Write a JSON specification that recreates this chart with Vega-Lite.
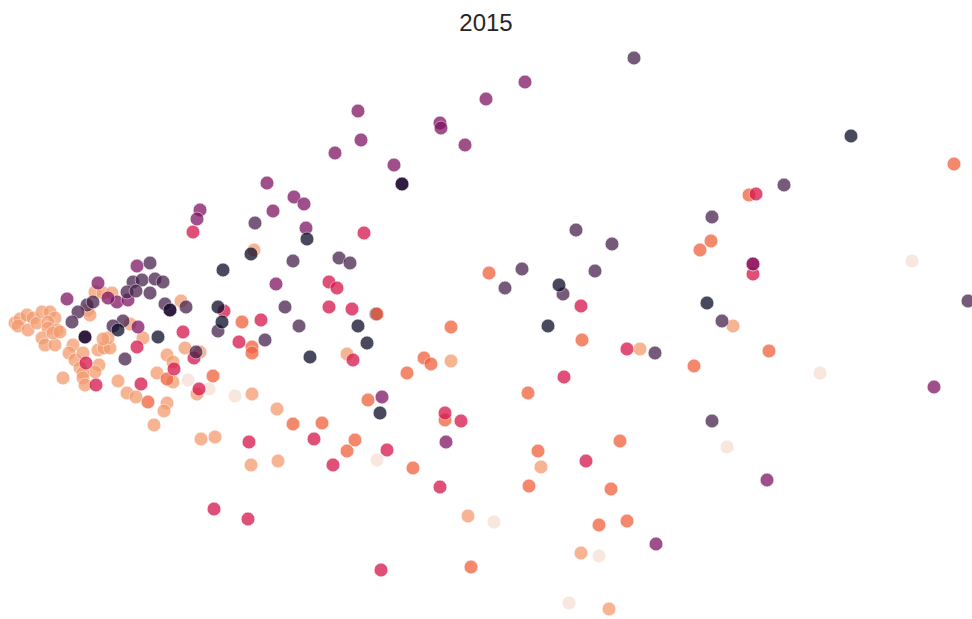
{
  "$schema": "https://vega.github.io/schema/vega-lite/v6.json",
  "width": 972,
  "height": 619,
  "autosize": "none",
  "padding": 0,
  "title": {"text": "2015", "anchor": "middle", "fontSize": 24, "font": "Liberation Sans", "fontWeight": "normal", "color": "#262626", "offset": -30, "dy": 25, "baseline": "alphabetic"},
  "config": {"view": {"stroke": null}},
  "data": {"values": [
    {"x":15,"y":323,"g":"K"},{"x":20,"y":319,"g":"K"},{"x":27,"y":315,"g":"K"},{"x":33,"y":318,"g":"K"},{"x":18,"y":326,"g":"K"},{"x":28,"y":330,"g":"K"},{"x":37,"y":323,"g":"K"},{"x":42,"y":312,"g":"K"},{"x":50,"y":312,"g":"K"},{"x":55,"y":318,"g":"K"},{"x":48,"y":322,"g":"K"},{"x":48,"y":328,"g":"K"},{"x":57,"y":330,"g":"K"},{"x":42,"y":338,"g":"K"},{"x":45,"y":345,"g":"K"},{"x":55,"y":345,"g":"K"},{"x":53,"y":333,"g":"K"},{"x":60,"y":332,"g":"K"},{"x":73,"y":345,"g":"K"},{"x":69,"y":353,"g":"K"},{"x":75,"y":360,"g":"K"},{"x":83,"y":353,"g":"K"},{"x":80,"y":368,"g":"K"},{"x":98,"y":350,"g":"K"},{"x":104,"y":348,"g":"K"},{"x":110,"y":348,"g":"K"},{"x":108,"y":338,"g":"K"},{"x":99,"y":365,"g":"K"},{"x":95,"y":372,"g":"K"},{"x":83,"y":373,"g":"K"},{"x":83,"y":378,"g":"K"},{"x":85,"y":385,"g":"K"},{"x":63,"y":378,"g":"K"},{"x":88,"y":310,"g":"K"},{"x":90,"y":315,"g":"K"},{"x":95,"y":292,"g":"K"},{"x":103,"y":293,"g":"K"},{"x":112,"y":293,"g":"K"},{"x":130,"y":324,"g":"K"},{"x":143,"y":338,"g":"K"},{"x":103,"y":339,"g":"K"},{"x":181,"y":301,"g":"K"},{"x":185,"y":348,"g":"K"},{"x":200,"y":352,"g":"K"},{"x":167,"y":355,"g":"K"},{"x":173,"y":362,"g":"K"},{"x":157,"y":373,"g":"K"},{"x":173,"y":382,"g":"K"},{"x":118,"y":381,"g":"K"},{"x":127,"y":393,"g":"K"},{"x":136,"y":397,"g":"K"},{"x":167,"y":403,"g":"K"},{"x":164,"y":411,"g":"K"},{"x":154,"y":425,"g":"K"},{"x":197,"y":394,"g":"K"},{"x":201,"y":439,"g":"K"},{"x":215,"y":437,"g":"K"},{"x":252,"y":394,"g":"K"},{"x":277,"y":409,"g":"K"},{"x":251,"y":465,"g":"K"},{"x":278,"y":461,"g":"K"},{"x":347,"y":354,"g":"K"},{"x":451,"y":361,"g":"K"},{"x":254,"y":250,"g":"K"},{"x":640,"y":349,"g":"K"},{"x":733,"y":326,"g":"K"},{"x":541,"y":467,"g":"K"},{"x":468,"y":516,"g":"K"},{"x":581,"y":553,"g":"K"},{"x":609,"y":609,"g":"K"},
    {"x":912,"y":261,"g":"W"},{"x":820,"y":373,"g":"W"},{"x":727,"y":447,"g":"W"},{"x":599,"y":556,"g":"W"},{"x":569,"y":603,"g":"W"},{"x":494,"y":522,"g":"W"},{"x":377,"y":460,"g":"W"},{"x":235,"y":396,"g":"W"},{"x":209,"y":389,"g":"W"},{"x":188,"y":380,"g":"W"},
    {"x":954,"y":164,"g":"O"},{"x":749,"y":195,"g":"O"},{"x":700,"y":250,"g":"O"},{"x":711,"y":241,"g":"O"},{"x":489,"y":273,"g":"O"},{"x":242,"y":322,"g":"O"},{"x":252,"y":347,"g":"O"},{"x":252,"y":353,"g":"O"},{"x":451,"y":327,"g":"O"},{"x":424,"y":358,"g":"O"},{"x":431,"y":364,"g":"O"},{"x":407,"y":373,"g":"O"},{"x":368,"y":400,"g":"O"},{"x":445,"y":420,"g":"O"},{"x":355,"y":440,"g":"O"},{"x":347,"y":451,"g":"O"},{"x":322,"y":423,"g":"O"},{"x":293,"y":424,"g":"O"},{"x":413,"y":468,"g":"O"},{"x":213,"y":376,"g":"O"},{"x":167,"y":379,"g":"O"},{"x":148,"y":402,"g":"O"},{"x":582,"y":340,"g":"O"},{"x":528,"y":393,"g":"O"},{"x":694,"y":366,"g":"O"},{"x":769,"y":351,"g":"O"},{"x":620,"y":441,"g":"O"},{"x":538,"y":451,"g":"O"},{"x":611,"y":489,"g":"O"},{"x":529,"y":486,"g":"O"},{"x":627,"y":521,"g":"O"},{"x":599,"y":525,"g":"O"},{"x":471,"y":567,"g":"O"},
    {"x":193,"y":232,"g":"C"},{"x":364,"y":233,"g":"C"},{"x":329,"y":282,"g":"C"},{"x":337,"y":288,"g":"C"},{"x":329,"y":307,"g":"C"},{"x":352,"y":309,"g":"C"},{"x":224,"y":311,"g":"C"},{"x":261,"y":320,"g":"C"},{"x":239,"y":342,"g":"C"},{"x":353,"y":360,"g":"C"},{"x":183,"y":332,"g":"C"},{"x":137,"y":347,"g":"C"},{"x":86,"y":363,"g":"C"},{"x":96,"y":385,"g":"C"},{"x":141,"y":384,"g":"C"},{"x":174,"y":369,"g":"C"},{"x":194,"y":358,"g":"C"},{"x":199,"y":389,"g":"C"},{"x":249,"y":442,"g":"C"},{"x":333,"y":465,"g":"C"},{"x":314,"y":439,"g":"C"},{"x":387,"y":450,"g":"C"},{"x":445,"y":413,"g":"C"},{"x":461,"y":421,"g":"C"},{"x":440,"y":487,"g":"C"},{"x":381,"y":570,"g":"C"},{"x":214,"y":509,"g":"C"},{"x":248,"y":519,"g":"C"},{"x":581,"y":306,"g":"C"},{"x":564,"y":377,"g":"C"},{"x":627,"y":349,"g":"C"},{"x":586,"y":461,"g":"C"},{"x":756,"y":194,"g":"C"},{"x":753,"y":274,"g":"C"},{"x":753,"y":264,"g":"C"},
    {"x":525,"y":82,"g":"M"},{"x":486,"y":99,"g":"M"},{"x":358,"y":111,"g":"M"},{"x":440,"y":123,"g":"M"},{"x":441,"y":128,"g":"M"},{"x":361,"y":140,"g":"M"},{"x":465,"y":145,"g":"M"},{"x":335,"y":153,"g":"M"},{"x":394,"y":165,"g":"M"},{"x":402,"y":184,"g":"M"},{"x":267,"y":183,"g":"M"},{"x":294,"y":197,"g":"M"},{"x":304,"y":204,"g":"M"},{"x":200,"y":210,"g":"M"},{"x":197,"y":219,"g":"M"},{"x":273,"y":211,"g":"M"},{"x":306,"y":228,"g":"M"},{"x":276,"y":284,"g":"M"},{"x":382,"y":397,"g":"M"},{"x":446,"y":442,"g":"M"},{"x":934,"y":387,"g":"M"},{"x":767,"y":480,"g":"M"},{"x":656,"y":544,"g":"M"},{"x":753,"y":264,"g":"M"},{"x":137,"y":266,"g":"M"},{"x":98,"y":283,"g":"M"},{"x":117,"y":302,"g":"M"},{"x":128,"y":300,"g":"M"},{"x":108,"y":298,"g":"M"},{"x":67,"y":299,"g":"M"},{"x":138,"y":327,"g":"M"},{"x":170,"y":310,"g":"M"},{"x":85,"y":337,"g":"M"},
    {"x":634,"y":58,"g":"P"},{"x":784,"y":185,"g":"P"},{"x":255,"y":223,"g":"P"},{"x":293,"y":261,"g":"P"},{"x":339,"y":258,"g":"P"},{"x":350,"y":263,"g":"P"},{"x":285,"y":307,"g":"P"},{"x":376,"y":314,"g":"P"},{"x":218,"y":331,"g":"P"},{"x":299,"y":326,"g":"P"},{"x":265,"y":340,"g":"P"},{"x":522,"y":269,"g":"P"},{"x":505,"y":288,"g":"P"},{"x":563,"y":294,"g":"P"},{"x":576,"y":230,"g":"P"},{"x":612,"y":244,"g":"P"},{"x":595,"y":271,"g":"P"},{"x":655,"y":353,"g":"P"},{"x":712,"y":217,"g":"P"},{"x":722,"y":321,"g":"P"},{"x":968,"y":301,"g":"P"},{"x":712,"y":421,"g":"P"},{"x":150,"y":263,"g":"P"},{"x":133,"y":282,"g":"P"},{"x":142,"y":280,"g":"P"},{"x":155,"y":279,"g":"P"},{"x":163,"y":282,"g":"P"},{"x":127,"y":292,"g":"P"},{"x":136,"y":291,"g":"P"},{"x":150,"y":293,"g":"P"},{"x":87,"y":305,"g":"P"},{"x":93,"y":302,"g":"P"},{"x":78,"y":312,"g":"P"},{"x":72,"y":322,"g":"P"},{"x":165,"y":304,"g":"P"},{"x":186,"y":307,"g":"P"},{"x":123,"y":321,"g":"P"},{"x":125,"y":359,"g":"P"},{"x":196,"y":352,"g":"P"},{"x":113,"y":326,"g":"P"},
    {"x":377,"y":314,"g":"O"},
    {"x":851,"y":136,"g":"D"},{"x":307,"y":239,"g":"D"},{"x":251,"y":254,"g":"D"},{"x":223,"y":270,"g":"D"},{"x":218,"y":307,"g":"D"},{"x":222,"y":322,"g":"D"},{"x":358,"y":326,"g":"D"},{"x":367,"y":343,"g":"D"},{"x":310,"y":357,"g":"D"},{"x":380,"y":413,"g":"D"},{"x":559,"y":285,"g":"D"},{"x":548,"y":326,"g":"D"},{"x":707,"y":303,"g":"D"},{"x":158,"y":337,"g":"D"},{"x":118,"y":330,"g":"D"},{"x":402,"y":184,"g":"D"},{"x":170,"y":310,"g":"D"},{"x":85,"y":337,"g":"D"}
  ]},
  "mark": {"type": "point", "filled": true, "shape": "circle", "size": 190, "opacity": 0.75, "stroke": "white", "strokeWidth": 0.6},
  "encoding": {
    "x": {"field": "x", "type": "quantitative", "scale": {"domain": [0, 972], "nice": false, "zero": false}, "axis": null},
    "y": {"field": "y", "type": "quantitative", "scale": {"domain": [0, 619], "nice": false, "zero": false, "reverse": true}, "axis": null},
    "color": {"field": "g", "type": "nominal", "scale": {"domain": ["D", "P", "M", "C", "O", "K", "W"], "range": ["#0d0d28", "#48234d", "#801563", "#d5154b", "#f0613d", "#f39c70", "#f5e0d3"]}, "legend": null}
  }
}
